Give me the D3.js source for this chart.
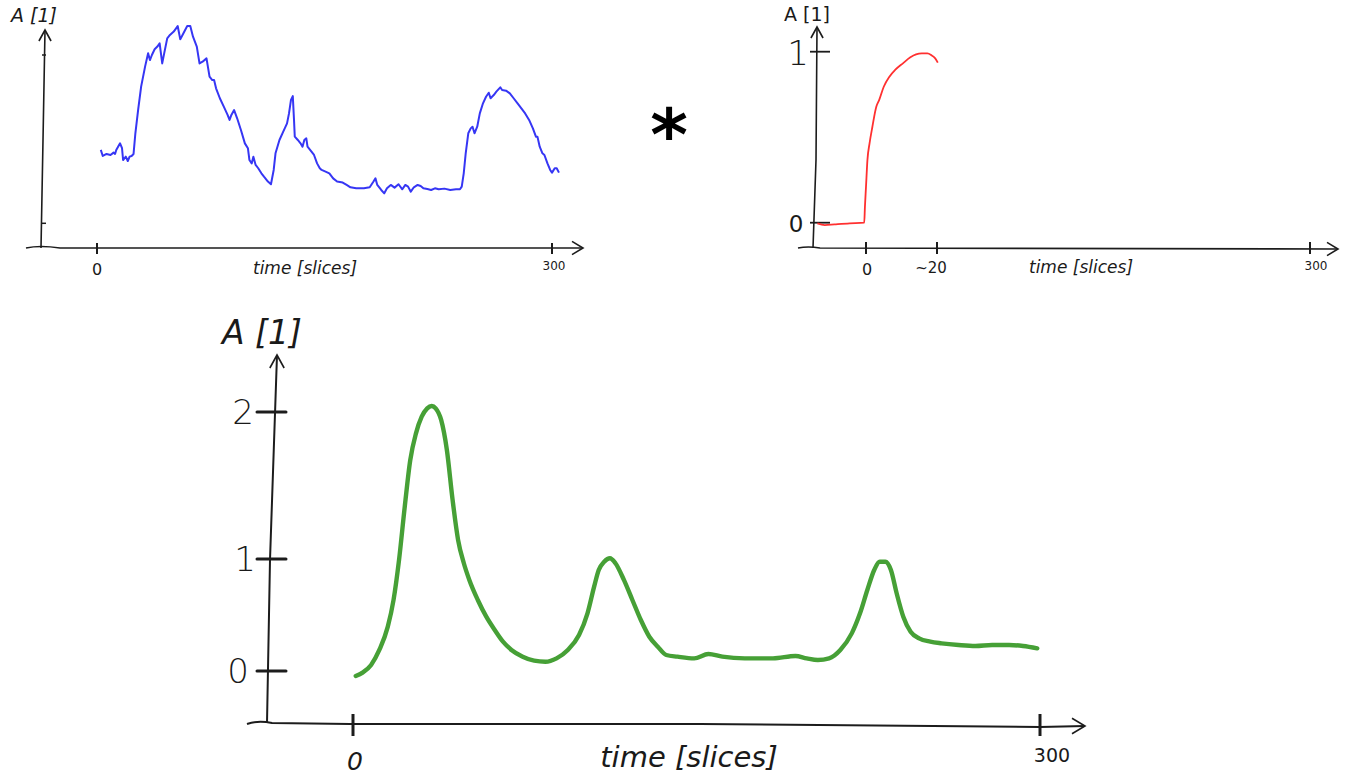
<!DOCTYPE html>
<html>
<head>
<meta charset="utf-8">
<script src="https://cdn.jsdelivr.net/npm/d3@7"></script>
<style>
  html, body { margin: 0; padding: 0; background: #ffffff; }
  svg { display: block; }
  text { font-family: "DejaVu Sans", sans-serif; fill: #1a1a1a; }
</style>
</head>
<body>
<svg id="chart" width="1353" height="777"></svg>
<script>
// ---------- DATA ----------
// Panel 1: measured signal (blue)
const blueTime = [2.5,3.8,6.3,8.9,10.9,11.9,12.7,13.9,15.2,16.5,17.2,19.0,20.3,21.5,22.8,24.1,25.3,27.1,29.1,31.7,33.7,34.9,36.2,38.0,39.8,41.3,43.0,44.3,46.3,48.1,50.6,53.2,54.9,57.0,59.5,61.5,63.3,65.8,67.6,69.6,72.2,74.2,76.0,77.2,78.5,81.0,83.6,86.1,87.4,88.6,90.4,92.4,94.9,97.5,99.5,100.5,102.0,103.1,104.6,106.3,108.4,110.1,112.7,114.7,116.5,117.7,120.3,122.8,125.3,126.6,127.9,129.1,129.9,130.4,132.4,134.2,135.5,136.7,138.0,138.8,140.5,143.1,145.1,146.9,148.1,150.7,153.2,155.7,158.3,162.0,164.6,167.1,170.9,176.0,179.8,182.3,183.6,184.8,187.4,189.4,191.2,193.7,196.2,198.8,201.3,203.3,205.1,206.9,208.9,211.4,213.4,215.2,217.8,220.3,222.8,225.3,229.1,232.9,236.7,239.3,240.5,241.8,243.1,244.8,246.4,247.6,248.9,250.7,252.4,254.5,256.5,258.3,259.5,261.6,263.3,265.9,267.1,269.7,272.2,274.7,277.3,279.8,282.3,284.9,287.4,289.4,290.4,291.9,293.7,295.0,297.0,298.8,300.0,301.8,303.1,304.6];
const blueValue = [0.436,0.400,0.412,0.406,0.420,0.412,0.436,0.455,0.475,0.446,0.376,0.396,0.370,0.396,0.400,0.412,0.535,0.673,0.812,0.931,1.010,0.970,1.000,1.034,1.050,1.069,0.950,1.010,1.099,1.119,1.139,1.172,1.093,1.129,1.172,1.172,1.109,1.050,0.950,0.960,0.980,0.871,0.851,0.851,0.802,0.743,0.693,0.644,0.614,0.644,0.673,0.624,0.554,0.475,0.446,0.376,0.356,0.396,0.347,0.327,0.297,0.277,0.248,0.232,0.317,0.416,0.495,0.545,0.594,0.653,0.733,0.756,0.614,0.515,0.495,0.475,0.455,0.495,0.505,0.455,0.436,0.406,0.356,0.327,0.317,0.307,0.297,0.267,0.248,0.242,0.228,0.214,0.208,0.208,0.214,0.248,0.267,0.228,0.198,0.178,0.208,0.228,0.212,0.232,0.202,0.228,0.218,0.188,0.214,0.228,0.222,0.208,0.204,0.198,0.208,0.202,0.206,0.198,0.202,0.202,0.218,0.297,0.416,0.535,0.564,0.574,0.535,0.574,0.653,0.713,0.752,0.776,0.743,0.762,0.782,0.808,0.792,0.788,0.772,0.743,0.713,0.683,0.653,0.614,0.564,0.515,0.515,0.455,0.416,0.406,0.356,0.317,0.301,0.327,0.327,0.301];

// Panel 2: response kernel (red)
const redTime  = [-13.7,-11.6,-8.9,-4.6,-0.5,-0.3,0,0.4,1.0,1.8,2.9,3.7,5.0,6.6,8.2,10.4,12.5,14.1,15.7,17.3,18.4,19.5,20.6];
const redValue = [-0.004,-0.014,-0.010,-0.004,0,0.094,0.21,0.366,0.464,0.561,0.678,0.717,0.795,0.854,0.893,0.932,0.967,0.984,0.990,0.990,0.980,0.961,0.936];

// Panel 3: convolution result (green)
const greenTime  = [1.2,4.2,7.9,11.5,15.2,17.7,20.1,22.6,25.0,27.5,30.0,32.4,34.4,36.1,38.5,41.0,43.5,45.9,48.4,50.8,54.5,58.2,61.9,65.5,69.2,74.1,79.1,84.0,88.9,93.8,98.7,102.4,105.3,107.3,109.7,112.2,114.6,118.3,122.0,125.7,129.4,133.1,136.8,141.7,149.0,155.2,161.3,171.1,183.4,193.2,198.1,203.0,207.9,212.8,217.8,221.4,224.6,227.6,230.0,232.5,234.9,237.4,240.3,243.5,247.2,252.1,257.0,264.4,271.8,279.1,286.5,292.6,298.8];
const greenValue = [-0.045,-0.015,0.054,0.188,0.396,0.634,0.991,1.356,1.673,1.855,1.968,2.025,2.041,2.025,1.946,1.741,1.401,1.129,0.962,0.813,0.634,0.485,0.366,0.262,0.188,0.128,0.092,0.083,0.113,0.188,0.321,0.515,0.753,0.902,0.976,1.005,0.962,0.813,0.634,0.455,0.306,0.217,0.143,0.128,0.113,0.152,0.128,0.113,0.113,0.134,0.113,0.098,0.113,0.188,0.336,0.515,0.723,0.902,0.976,0.976,0.902,0.694,0.485,0.351,0.292,0.262,0.247,0.232,0.223,0.232,0.232,0.223,0.202];

// Tick labels
const blueXTicks  = [0, 300];
const redXTicks   = [0, 20, 300];
const redXLabels  = ["0", "~20", "300"];
const redYTicks   = [0, 1];
const greenXTicks = [0, 300];
const greenYTicks = [0, 1, 2];
const yAxisTitle  = "A [1]";
const xAxisTitle  = "time [slices]";

// ---------- DRAWING ----------
const svg = d3.select("#chart");
const ink = "#1c1c1c";

function arrowX(g, x, y, s) {
  g.append("path").attr("d", `M${x - s},${y - s * 0.6} L${x},${y} L${x - s},${y + s * 0.6}`)
    .attr("fill", "none").attr("stroke", ink).attr("stroke-width", 1.6);
}
function arrowY(g, x, y, s) {
  g.append("path").attr("d", `M${x - s * 0.55},${y + s} L${x},${y} L${x + s * 0.55},${y + s}`)
    .attr("fill", "none").attr("stroke", ink).attr("stroke-width", 1.6);
}

// ===== Panel 1 (blue) =====
{
  const g = svg.append("g");
  const x = d3.scaleLinear().domain([0, 300]).range([97, 552]);
  const y = d3.scaleLinear().domain([0, 1]).range([223.3, 55]);
  const axisY = 248;
  g.append("path").attr("d", `M26,${axisY} Q40,${axisY - 3} 60,${axisY} L583,${axisY}`)
    .attr("fill", "none").attr("stroke", ink).attr("stroke-width", 1.6);
  arrowX(g, 583, axisY, 11);
  g.append("path").attr("d", `M41,${axisY} L43,140 L45,30`)
    .attr("fill", "none").attr("stroke", ink).attr("stroke-width", 1.6);
  arrowY(g, 45, 30, 11);
  [0, 1].forEach(v => g.append("line").attr("x1", 42).attr("x2", 46)
    .attr("y1", y(v)).attr("y2", y(v)).attr("stroke", ink).attr("stroke-width", 1.5));
  blueXTicks.forEach(t => {
    g.append("line").attr("x1", x(t)).attr("x2", x(t)).attr("y1", axisY - 5).attr("y2", axisY + 6)
      .attr("stroke", ink).attr("stroke-width", 2);
  });
  g.append("text").attr("x", x(0)).attr("y", 275).attr("text-anchor", "middle")
    .attr("font-size", 16).text("0");
  g.append("text").attr("x", x(300) + 2).attr("y", 270).attr("text-anchor", "middle")
    .attr("font-size", 12).text("300");
  g.append("text").attr("x", 305).attr("y", 274).attr("text-anchor", "middle")
    .attr("font-size", 17).attr("font-style", "italic").text(xAxisTitle);
  g.append("text").attr("x", 11).attr("y", 22).attr("font-size", 19)
    .attr("font-style", "italic").text(yAxisTitle);
  const data = blueTime.map((t, i) => [t, blueValue[i]]);
  g.append("path").datum(data)
    .attr("d", d3.line().x(d => x(d[0])).y(d => y(d[1])).curve(d3.curveLinear))
    .attr("fill", "none").attr("stroke", "#3636f4").attr("stroke-width", 2)
    .attr("stroke-linejoin", "round");
}

// ===== Asterisk =====
svg.append("text").attr("x", 669).attr("y", 160).attr("text-anchor", "middle")
  .attr("font-size", 72).attr("font-weight", "bold").style("fill", "#000").text("*");

// ===== Panel 2 (red) =====
{
  const g = svg.append("g");
  const x = d3.scaleLinear().domain(redXTicks).range([866, 937, 1310]);
  const y = d3.scaleLinear().domain([0, 1]).range([222.7, 51.7]);
  const axisY = 248;
  g.append("path").attr("d", `M798,${axisY} Q808,${axisY - 2} 820,${axisY} L1338,${axisY + 1}`)
    .attr("fill", "none").attr("stroke", ink).attr("stroke-width", 1.6);
  arrowX(g, 1338, axisY + 1, 11);
  g.append("path").attr("d", `M813,${axisY} L816,160 L817,27`)
    .attr("fill", "none").attr("stroke", ink).attr("stroke-width", 1.6);
  arrowY(g, 817, 27, 11);
  redYTicks.forEach(v => g.append("line").attr("x1", 810).attr("x2", 830)
    .attr("y1", y(v)).attr("y2", y(v)).attr("stroke", ink).attr("stroke-width", 1.8));
  g.append("text").attr("x", 798).attr("y", y(1) + 13).attr("text-anchor", "middle")
    .attr("font-size", 34).attr("font-weight", 300).text("1");
  g.append("text").attr("x", 796).attr("y", y(0) + 9).attr("text-anchor", "middle")
    .attr("font-size", 23).text("0");
  redXTicks.forEach(t => {
    g.append("line").attr("x1", x(t)).attr("x2", x(t)).attr("y1", axisY - 6).attr("y2", axisY + 6)
      .attr("stroke", ink).attr("stroke-width", 2);
  });
  g.append("text").attr("x", x(0) + 1).attr("y", 275).attr("text-anchor", "middle")
    .attr("font-size", 16).text(redXLabels[0]);
  g.append("text").attr("x", x(20) - 6).attr("y", 273).attr("text-anchor", "middle")
    .attr("font-size", 15).text(redXLabels[1]);
  g.append("text").attr("x", x(300) + 6).attr("y", 270).attr("text-anchor", "middle")
    .attr("font-size", 12).text(redXLabels[2]);
  g.append("text").attr("x", 1081).attr("y", 273).attr("text-anchor", "middle")
    .attr("font-size", 17).attr("font-style", "italic").text(xAxisTitle);
  g.append("text").attr("x", 784).attr("y", 21).attr("font-size", 19).text(yAxisTitle);
  const data = redTime.map((t, i) => [t, redValue[i]]);
  g.append("path").datum(data)
    .attr("d", d3.line().x(d => x(d[0])).y(d => y(d[1])).curve(d3.curveMonotoneX))
    .attr("fill", "none").attr("stroke", "#ff3030").attr("stroke-width", 1.8);
}

// ===== Panel 3 (green) =====
{
  const g = svg.append("g");
  const x = d3.scaleLinear().domain([0, 300]).range([353, 1040]);
  const y = d3.scaleLinear().domain(greenYTicks).range([671, 559, 412]);
  const axisY = 724;
  g.append("path").attr("d", `M247,${axisY} Q258,${axisY - 4} 272,${axisY - 1} L350,${axisY} L700,${axisY} L1040,${axisY + 3} L1085,${axisY + 2}`)
    .attr("fill", "none").attr("stroke", ink).attr("stroke-width", 2);
  arrowX(g, 1085, axisY + 2, 13);
  g.append("path").attr("d", `M267,${axisY - 1} L270,560 L277,355`)
    .attr("fill", "none").attr("stroke", ink).attr("stroke-width", 2);
  arrowY(g, 277, 355, 13);
  greenYTicks.forEach(v => g.append("line").attr("x1", 257).attr("x2", 286)
    .attr("y1", y(v)).attr("y2", y(v)).attr("stroke", ink).attr("stroke-width", 3)
    .attr("stroke-linecap", "round"));
  const ylabX = [238, 245, 243];
  greenYTicks.forEach((v, i) => g.append("text").attr("x", ylabX[i]).attr("y", y(v) + 12)
    .attr("text-anchor", "middle").attr("font-size", 34).attr("font-weight", 300).text(String(v)));
  greenXTicks.forEach(t => {
    g.append("line").attr("x1", x(t)).attr("x2", x(t)).attr("y1", axisY - 10).attr("y2", axisY + 12)
      .attr("stroke", ink).attr("stroke-width", 3);
  });
  g.append("text").attr("x", x(0) + 2).attr("y", 770).attr("text-anchor", "middle")
    .attr("font-size", 25).attr("font-style", "italic").text("0");
  g.append("text").attr("x", x(300) + 12).attr("y", 762).attr("text-anchor", "middle")
    .attr("font-size", 19).text("300");
  g.append("text").attr("x", 689).attr("y", 767).attr("text-anchor", "middle")
    .attr("font-size", 29).attr("font-style", "italic").text(xAxisTitle);
  g.append("text").attr("x", 222).attr("y", 344).attr("font-size", 33)
    .attr("font-style", "italic").text(yAxisTitle);
  const data = greenTime.map((t, i) => [t, greenValue[i]]);
  g.append("path").datum(data)
    .attr("d", d3.line().x(d => x(d[0])).y(d => y(d[1])).curve(d3.curveMonotoneX))
    .attr("fill", "none").attr("stroke", "#46a036").attr("stroke-width", 4.4)
    .attr("stroke-linejoin", "round").attr("stroke-linecap", "round");
}
</script>
</body>
</html>
